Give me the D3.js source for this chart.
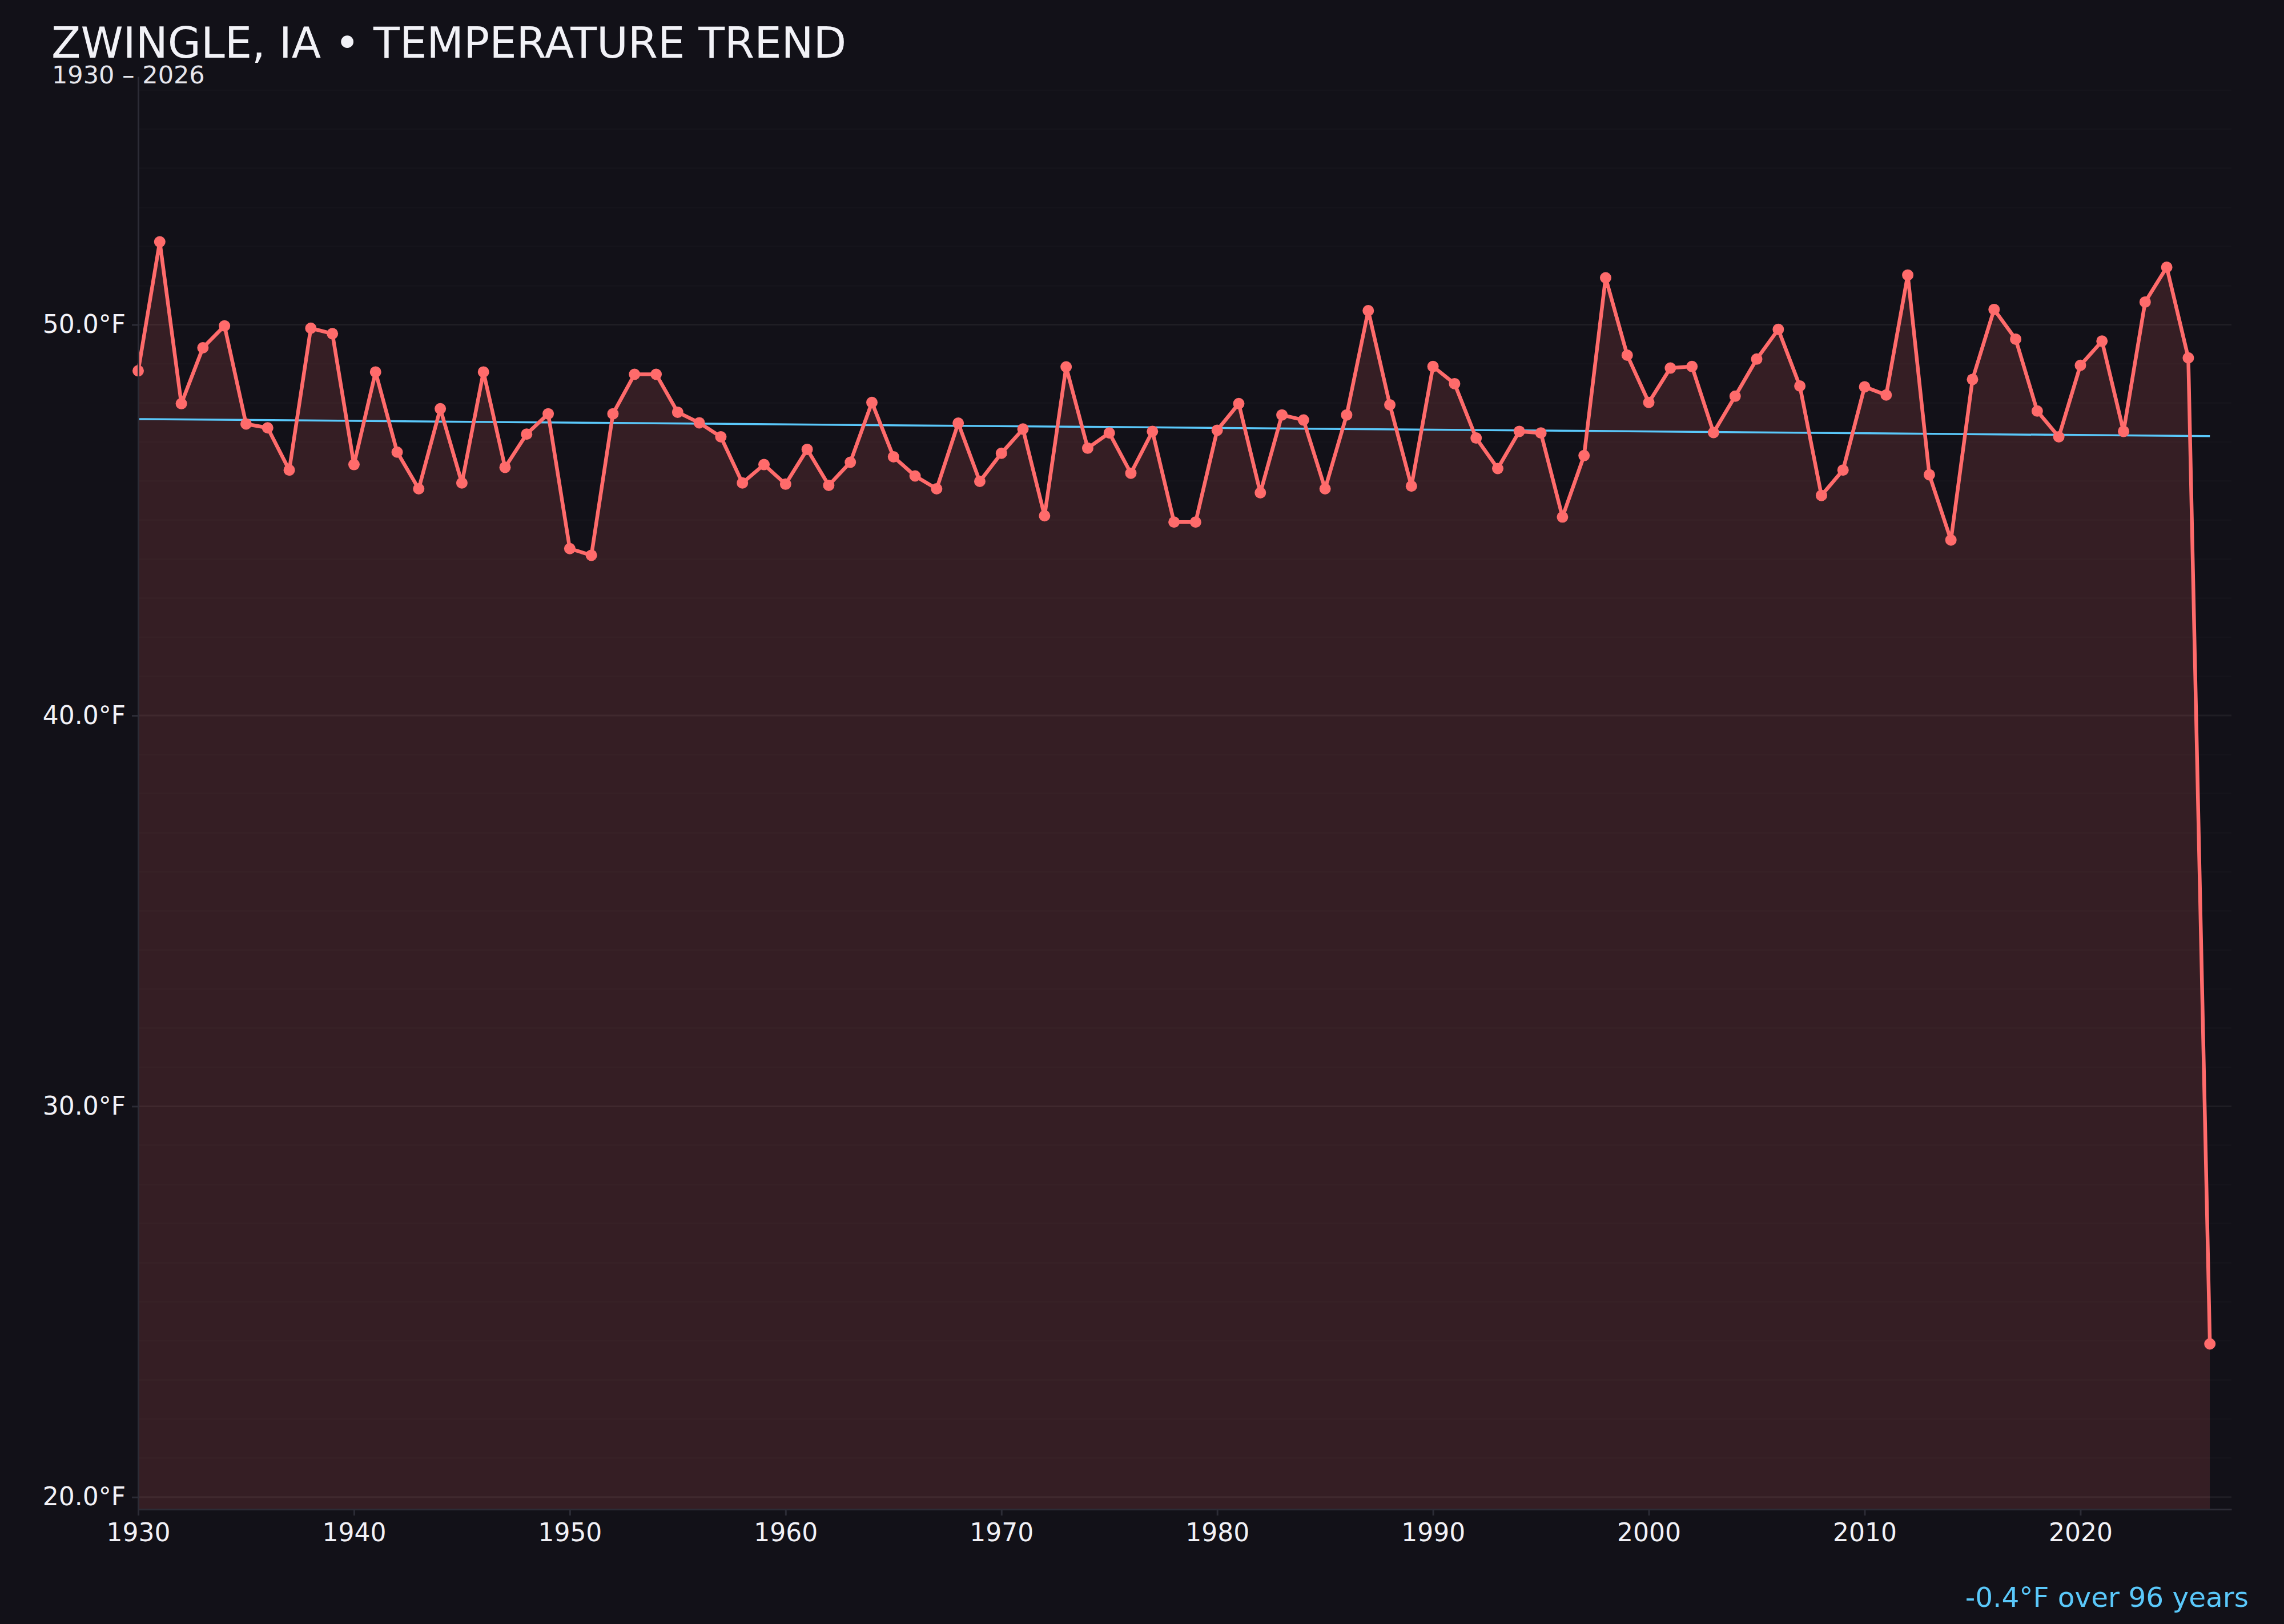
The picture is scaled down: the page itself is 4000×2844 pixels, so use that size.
<!DOCTYPE html>
<html lang="en">
<head>
    <meta charset="UTF-8">
    <title>Zwingle, IA temperature trend</title>
    <script src="https://d3js.org/d3.v7.min.js"></script>
    <style>
        html, body { margin: 0; padding: 0; background: #121118; }
        svg { display: block; font-family: "DejaVu Sans", sans-serif; }
    </style>
</head>
<body>
    <div id="chart"></div>

    <script>
        // Data (annual mean, °F)
        const years = [
            1930, 1931, 1932, 1933, 1934, 1935, 1936, 1937, 1938, 1939,
            1940, 1941, 1942, 1943, 1944, 1945, 1946, 1947, 1948, 1949,
            1950, 1951, 1952, 1953, 1954, 1955, 1956, 1957, 1958, 1959,
            1960, 1961, 1962, 1963, 1964, 1965, 1966, 1967, 1968, 1969,
            1970, 1971, 1972, 1973, 1974, 1975, 1976, 1977, 1978, 1979,
            1980, 1981, 1982, 1983, 1984, 1985, 1986, 1987, 1988, 1989,
            1990, 1991, 1992, 1993, 1994, 1995, 1996, 1997, 1998, 1999,
            2000, 2001, 2002, 2003, 2004, 2005, 2006, 2007, 2008, 2009,
            2010, 2011, 2012, 2013, 2014, 2015, 2016, 2017, 2018, 2019,
            2020, 2021, 2022, 2023, 2024, 2025, 2026
        ];
        const temps = [
            48.82, 52.12, 47.98, 49.41, 49.97, 47.46, 47.36, 46.28, 49.91, 49.77,
            46.42, 48.79, 46.74, 45.80, 47.85, 45.95, 48.79, 46.35, 47.20, 47.72,
            44.27, 44.10, 47.72, 48.73, 48.73, 47.76, 47.49, 47.13, 45.95, 46.42,
            45.92, 46.81, 45.89, 46.48, 48.01, 46.62, 46.13, 45.80, 47.48, 45.99,
            46.71, 47.33, 45.11, 48.92, 46.84, 47.23, 46.20, 47.27, 44.95, 44.95,
            47.30, 47.98, 45.70, 47.69, 47.56, 45.80, 47.69, 50.36, 47.95, 45.87,
            48.93, 48.49, 47.10, 46.32, 47.27, 47.23, 45.08, 46.65, 51.20, 49.22,
            48.01, 48.89, 48.93, 47.24, 48.17, 49.12, 49.88, 48.43, 45.63, 46.28,
            48.41, 48.20, 51.27, 46.16, 44.49, 48.60, 50.39, 49.63, 47.79, 47.13,
            48.96, 49.58, 47.27, 50.58, 51.47, 49.15, 23.92
        ];
        const xTickYears = [1930, 1940, 1950, 1960, 1970, 1980, 1990, 2000, 2010, 2020];
        const yTickTemps = [20, 30, 40, 50];

        const titleText = "ZWINGLE, IA \u2022 TEMPERATURE TREND";
        const subtitleText = "1930 \u2013 2026";
        const trendText = "-0.4\u00B0F over 96 years";

        const data = years.map((y, i) => ({ year: y, temp: temps[i] }));

        const width = 4000, height = 2844;
        const margin = { top: 134, right: 92, bottom: 201, left: 242 };
        const innerW = width - margin.left - margin.right;
        const innerH = height - margin.top - margin.bottom;

        const lineColor = "#ff6b6b";
        const trendColor = "#5ac8fa";

        const svg = d3.select("#chart")
            .append("svg")
            .attr("width", width)
            .attr("height", height);

        svg.append("rect")
            .attr("width", width)
            .attr("height", height)
            .attr("fill", "#121118");

        const g = svg.append("g")
            .attr("transform", "translate(" + margin.left + "," + margin.top + ")");

        // Scales - y padded by 15% of the data range
        const tMin = d3.min(temps), tMax = d3.max(temps);
        const pad = (tMax - tMin) * 0.15;
        const x = d3.scaleLinear()
            .domain([d3.min(years), d3.max(years) + 1])
            .range([0, innerW]);
        const y = d3.scaleLinear()
            .domain([tMin - pad, tMax + pad])
            .range([innerH, 0]);

        // Gridlines: very faint every degree, a bit stronger every 10
        const gridVals = d3.range(Math.ceil(tMin - pad), Math.floor(tMax + pad) + 1);
        g.append("g")
            .selectAll("line")
            .data(gridVals)
            .enter()
            .append("line")
            .attr("x1", 0)
            .attr("x2", innerW)
            .attr("y1", d => y(d))
            .attr("y2", d => y(d))
            .attr("stroke", "#ffffff")
            .attr("stroke-opacity", d => d % 10 === 0 ? 0.055 : 0.014)
            .attr("stroke-width", 3);

        // Area under the line
        const area = d3.area()
            .x(d => x(d.year))
            .y0(innerH)
            .y1(d => y(d.temp));
        g.append("path")
            .datum(data)
            .attr("d", area)
            .attr("fill", lineColor)
            .attr("fill-opacity", 0.15);

        // Linear trend (least squares)
        const mx = d3.mean(years), my = d3.mean(temps);
        const slope = d3.sum(data, d => (d.year - mx) * (d.temp - my)) /
            d3.sum(data, d => (d.year - mx) * (d.year - mx));
        const trend = [d3.min(years), d3.max(years)].map(yr => ({ year: yr, temp: my + slope * (yr - mx) }));

        const line = d3.line()
            .x(d => x(d.year))
            .y(d => y(d.temp));

        g.append("path")
            .datum(trend)
            .attr("d", line)
            .attr("fill", "none")
            .attr("stroke", trendColor)
            .attr("stroke-width", 3.5);

        g.append("path")
            .datum(data)
            .attr("d", line)
            .attr("fill", "none")
            .attr("stroke", lineColor)
            .attr("stroke-width", 6.5)
            .attr("stroke-linejoin", "round");

        g.append("g")
            .selectAll("circle")
            .data(data)
            .enter()
            .append("circle")
            .attr("cx", d => x(d.year))
            .attr("cy", d => y(d.temp))
            .attr("r", 10)
            .attr("fill", lineColor);

        // Axes
        const xAxis = g.append("g")
            .attr("transform", "translate(0," + innerH + ")")
            .call(d3.axisBottom(x)
                .tickValues(xTickYears)
                .tickFormat(d3.format("d"))
                .tickSize(11)
                .tickSizeOuter(0)
                .tickPadding(14));

        const yAxis = g.append("g")
            .call(d3.axisLeft(y)
                .tickValues(yTickTemps)
                .tickFormat(d => d.toFixed(1) + "\u00B0F")
                .tickSize(11)
                .tickSizeOuter(0)
                .tickPadding(11));

        [xAxis, yAxis].forEach(ax => {
            ax.select(".domain").attr("stroke", "#2c2c36").attr("stroke-width", 3);
            ax.selectAll(".tick line").attr("stroke", "#2c2c36").attr("stroke-width", 3);
            ax.selectAll(".tick text")
                .attr("fill", "#f2f2f7")
                .style("font-size", "44px")
                .style("font-family", "DejaVu Sans");
        });

        // Titles
        svg.append("text")
            .attr("x", 90)
            .attr("y", 101)
            .attr("fill", "#f2f2f7")
            .style("font-size", "75px")
            .text(titleText);

        svg.append("text")
            .attr("x", 91)
            .attr("y", 146)
            .attr("fill", "#e6e6ec")
            .style("font-size", "43px")
            .text(subtitleText);

        svg.append("text")
            .attr("x", 3938)
            .attr("y", 2814)
            .attr("text-anchor", "end")
            .attr("fill", trendColor)
            .style("font-size", "48.5px")
            .text(trendText);
    </script>
</body>
</html>
